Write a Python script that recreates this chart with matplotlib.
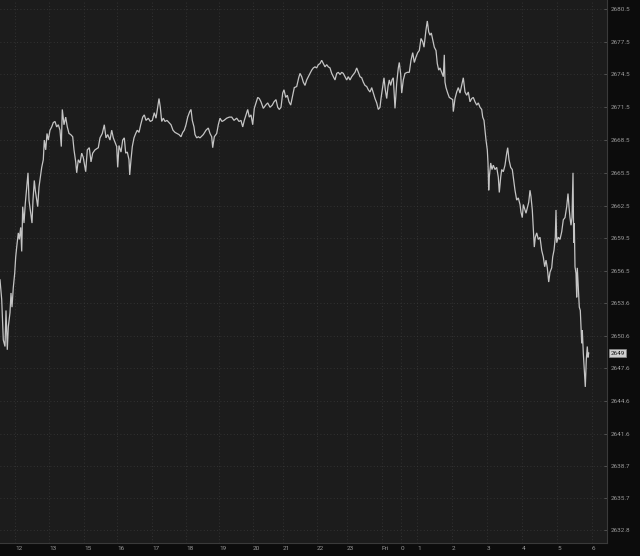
import matplotlib
matplotlib.use("Agg")
import matplotlib.pyplot as plt

# ---- data (bar index along the session, price) ----
bars = [0,1.7,3.3,5,6,7.3,8.3,10,11,12,13.3,14.7,15.7,16.7,18.3,19.3,20.7,21.7,22.7,24,25.3,26.7,28,29,30.3,32,33,34.3,35.3,36.7,37.7,39,40.3,41.7,43.3,44.3,45.7,47,48.3,50,51.7,53.3,55,56.7,58.3,60,61.3,62.3,64,65.7,67.3,69,70.7,72.7,74,75.7,76.7,78.3,80,81.7,83.3,85.7,87.3,89.3,91,92.7,95,
        98.3,100,102.3,104.3,106,107.7,110,111.7,113.3,115,116.7,117.7,119,121,122.7,124.3,125.7,127.3,129,129.7,131,132.3,134,135.7,137.3,139,140.7,142.7,144.3,146,148.3,150.3,152.3,154.3,156,157.7,159,160.3,161.7,163.3,165,167,169,171,173,175,177,179,181,182.7,184.3,186,187.7,189.7,191,192.3,194,195,196.7,198.3,
        200,203.3,206,208.3,210,211.7,212.7,214.3,216.7,218.3,220,222,224,226.7,229.3,231.7,234,236.7,239,241,242.7,244.3,246,247.7,249.3,251,252.7,254.3,256,257.7,259.3,261,263.3,265.7,267.7,270,272.3,274,276,277.7,279.3,281,282.7,284,285.7,287.3,289,290.7,292.3,294.3,296.7,298.7,300,
        301.7,303.3,305,306.7,308.3,310,311.7,313.3,315,316.7,318.3,320,321.7,323.3,325,326.7,328.3,330,331.7,333.3,335,336.7,338.3,340,341.7,343.3,345,346.7,348.3,350,351.7,353.3,355,356.7,358.3,360,361.7,363.3,365,366.7,368.3,370,371.7,373.3,375,376.7,378.3,380,381,382.3,384,385.3,386.7,388,389.3,390.7,392,393.3,395,396.7,398.3,399.3,
        400.7,401.7,403.3,405,407.3,409.3,411,412.7,414.3,416,417.7,419.3,421,422.7,424,425,426,427.3,428.7,430,431.3,432.7,434.3,436,437.3,438.7,440,441.7,443.3,444.3,445,446,447.7,449.3,451,452.7,453.3,455,456.7,458.3,460,461.7,463.3,465,466.7,468.3,470,471.7,473.3,475,476.7,478.3,480,481.7,482.7,484,485,486,487.3,488,488.7,489.3,490.7,492,493.3,495,496.7,498.3,499.3,500.7,
        501.7,503.3,505,506.7,507.7,509,510.7,512.3,513.3,515,516.7,518.3,520,521,522.3,523.3,525,526,527.3,528.7,530,531,532.3,533.3,534.3,535.3,536.7,538.3,540,541.7,543.3,544.7,546,547.3,548.7,550,551.7,552.7,554,555.3,556,556.7,558.3,560,561.7,563.3,565,566.7,568,569,570,571,572,573,573.7,574.3,575,576,576.7,577.3,578.3,579.3,580.3,581,581.7,582.3,583.3,584.3,585.3,586.3,587.3,588,588.7]

prices = [2655.7,2653.9,2650.2,2649.6,2652.9,2649.3,2651.4,2652.7,2654.5,2653.2,2655.0,2656.3,2657.8,2658.7,2660.0,2659.4,2660.5,2658.3,2662.4,2660.9,2662.7,2664.2,2665.5,2663.0,2662.1,2660.9,2663.0,2664.8,2663.9,2663.0,2662.4,2664.2,2665.1,2666.0,2666.7,2668.5,2667.6,2669.1,2668.5,2669.4,2669.7,2670.1,2670.2,2669.7,2669.9,2669.4,2667.9,2671.3,2669.9,2670.6,2669.7,2669.1,2669.0,2668.8,2667.6,2666.5,2665.5,2666.7,2666.4,2667.3,2666.9,2665.6,2667.6,2667.8,2666.5,2667.3,2667.6,
          2667.8,2668.7,2669.1,2669.9,2668.7,2669.0,2668.5,2669.4,2668.7,2668.3,2667.9,2666.0,2668.0,2667.4,2668.5,2668.7,2667.3,2667.4,2666.7,2665.3,2666.7,2667.9,2668.7,2669.1,2669.4,2669.2,2669.9,2670.6,2670.8,2670.3,2670.5,2670.2,2670.3,2671.0,2670.5,2671.5,2672.3,2671.5,2670.2,2670.5,2670.2,2670.3,2670.1,2669.9,2669.4,2669.2,2669.1,2669.0,2668.8,2669.2,2669.4,2669.9,2670.6,2671.1,2671.3,2670.3,2669.7,2669.0,2668.7,2668.8,
          2668.7,2669.0,2669.4,2669.6,2669.1,2668.8,2667.8,2668.8,2669.1,2669.9,2670.5,2670.2,2670.3,2670.5,2670.6,2670.6,2670.3,2670.5,2670.2,2670.3,2669.7,2670.3,2670.8,2671.3,2670.6,2670.8,2669.9,2671.4,2671.9,2672.4,2672.3,2672.0,2671.4,2671.7,2671.9,2671.5,2671.7,2672.0,2672.2,2671.5,2671.3,2671.5,2672.8,2673.1,2672.4,2672.6,2672.0,2671.7,2672.4,2673.3,2673.4,2674.2,2674.6,
          2674.3,2673.8,2673.5,2674.0,2674.3,2674.6,2674.9,2675.1,2675.2,2675.1,2675.4,2675.5,2675.8,2675.5,2675.2,2675.4,2675.2,2675.1,2674.6,2674.3,2674.0,2674.6,2674.7,2674.5,2674.7,2674.6,2674.3,2674.0,2674.3,2674.0,2674.3,2674.5,2674.7,2675.1,2674.7,2674.3,2674.2,2673.8,2673.5,2673.4,2673.1,2672.9,2673.3,2672.8,2672.3,2671.9,2671.3,2671.5,2672.3,2673.1,2674.2,2673.1,2672.3,2673.4,2674.0,2673.5,2674.0,2674.2,2671.4,2673.7,2675.1,2675.6,
          2674.5,2672.8,2674.0,2674.6,2674.7,2674.7,2675.8,2676.5,2675.6,2676.1,2676.5,2676.7,2677.8,2677.5,2677.0,2677.8,2678.6,2679.4,2678.4,2678.1,2678.3,2677.7,2677.0,2676.7,2675.5,2674.9,2675.1,2674.7,2674.3,2676.3,2673.8,2673.3,2672.8,2672.4,2672.3,2672.2,2671.1,2672.3,2672.9,2673.3,2672.8,2673.5,2674.2,2672.9,2672.6,2672.9,2672.0,2672.3,2672.4,2672.0,2671.7,2671.9,2671.5,2671.3,2670.6,2670.3,2669.4,2668.5,2667.6,2666.4,2663.9,2665.1,2666.4,2665.8,2666.2,2665.8,2666.0,2665.1,2663.7,2665.1,
          2665.8,2665.6,2666.2,2667.3,2667.8,2666.7,2666.0,2665.8,2665.1,2663.9,2663.0,2663.2,2662.6,2661.9,2661.4,2662.6,2662.1,2661.8,2662.3,2662.8,2663.9,2663.3,2662.1,2660.3,2658.7,2659.6,2660.0,2659.4,2659.6,2658.4,2657.8,2656.9,2657.5,2656.8,2655.5,2656.4,2656.8,2657.8,2658.4,2659.6,2662.1,2659.1,2659.6,2659.4,2660.1,2661.2,2661.4,2662.4,2663.6,2662.4,2661.4,2660.7,2661.4,2665.5,2659.1,2660.9,2656.9,2656.3,2654.1,2656.8,2655.0,2653.2,2652.9,2651.4,2649.9,2651.1,2649.0,2647.4,2645.9,2648.4,2649.6,2648.6,2649.0]

x_tick_pos = [15, 49, 84, 117, 152, 186, 219, 253, 283, 317, 347, 382, 401, 417, 452, 487, 522, 557, 592]
x_tick_labels = ['12', '13', '15', '16', '17', '18', '19', '20', '21', '22', '23', 'Fri', '0', '1', '2', '3', '4', '5', '6']
y_tick_vals = [2680.5, 2677.5, 2674.5, 2671.5, 2668.5, 2665.5, 2662.5, 2659.5, 2656.5,
               2653.6, 2650.6, 2647.6, 2644.6, 2641.6, 2638.7, 2635.7, 2632.8]
last_price = 2649

# ---- styling ----
PLOT_BG = '#1c1c1c'
OUTER_BG = '#0c0c0c'
GRID = '#3a3a3a'
TXT = '#9a9a9a'

fig = plt.figure(figsize=(6.4, 5.56), dpi=100, facecolor=OUTER_BG)
ax = fig.add_axes([0, 13/556, 607/640, 543/556])
ax.set_facecolor(PLOT_BG)

ax.plot(bars, prices, color='#c4c4c4', lw=0.9, solid_joinstyle='miter')

ax.set_xlim(0, 607)
ax.set_ylim(2631.61, 2681.32)

ax.yaxis.tick_right()
ax.set_yticks(y_tick_vals)
ax.set_yticklabels([f'{v:.1f}' for v in y_tick_vals])
ax.set_xticks(x_tick_pos)
ax.set_xticklabels(x_tick_labels, ha='left')

ax.tick_params(axis='y', direction='in', length=2.5, width=0.6, color='#5a5a5a',
               pad=3, labelsize=4.6, labelcolor=TXT)
ax.tick_params(axis='x', length=0, pad=2.5, labelsize=4.6, labelcolor=TXT)
for lab in ax.get_xticklabels() + ax.get_yticklabels():
    lab.set_fontfamily('Roboto')

ax.grid(True, color=GRID, linestyle=(0, (1, 3)), linewidth=0.6)
for side in ['left', 'top']:
    ax.spines[side].set_visible(False)
for side in ['right', 'bottom']:
    ax.spines[side].set_color('#3a3a3a')
    ax.spines[side].set_linewidth(0.8)

ax.annotate(f'{last_price}', xy=(1, last_price), xycoords=('axes fraction', 'data'),
            xytext=(2.5, 0), textcoords='offset points', ha='left', va='center',
            fontsize=4.6, family='Roboto', color='#1a1a1a',
            bbox=dict(boxstyle='square,pad=0.25', fc='#cfcfcf', ec='#8a8a8a', lw=0.5),
            annotation_clip=False)

fig.savefig('out.png', dpi=100, facecolor=OUTER_BG)
